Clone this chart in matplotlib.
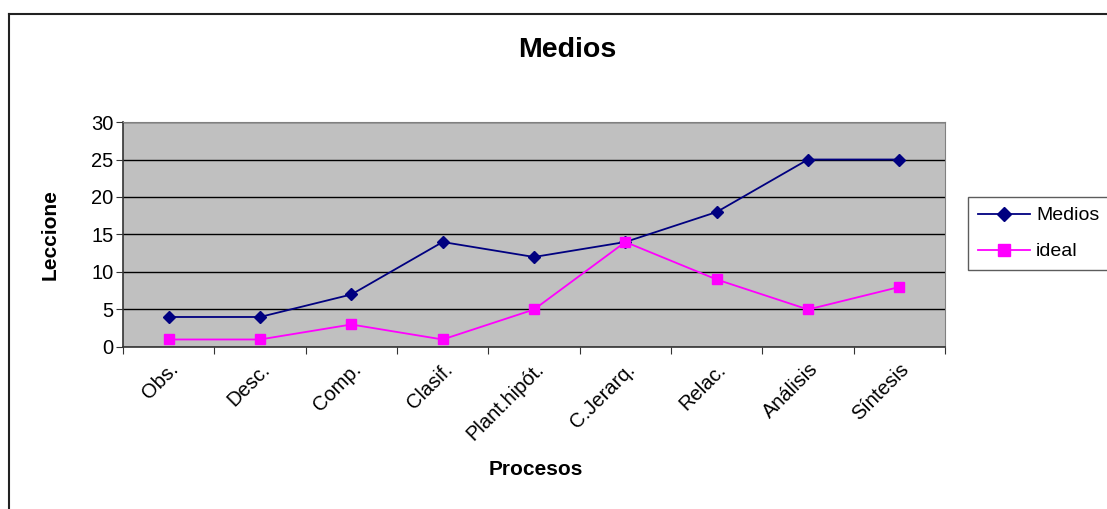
import matplotlib
matplotlib.use('Agg')
import matplotlib.pyplot as plt
from matplotlib.lines import Line2D

plt.rcParams['font.family'] = ['Liberation Sans', 'DejaVu Sans']

procesos = ['Obs.', 'Desc.', 'Comp.', 'Clasif.', 'Plant.hipót.',
            'C.Jerarq.', 'Relac.', 'Análisis', 'Síntesis']
medios = [4, 4, 7, 14, 12, 14, 18, 25, 25]
ideal = [1, 1, 3, 1, 5, 14, 9, 5, 8]

fig = plt.figure(figsize=(11.07, 5.09), dpi=100)
ax = fig.add_axes([0.1111, 0.3183, 0.7426, 0.4420])
ax.set_facecolor('#C0C0C0')

x = list(range(len(procesos)))
ax.plot(x, medios, color='#000080', marker='D', markersize=6, lw=1.3, label='Medios')
ax.plot(x, ideal, color='#FF00FF', marker='s', markersize=7, lw=1.3, label='ideal')

ax.set_xlim(-0.5, len(procesos) - 0.5)
ax.set_ylim(0, 30)
ax.set_yticks(range(0, 31, 5))
ax.yaxis.grid(True, color='black', lw=1)
ax.set_axisbelow(True)

# category ticks sit on the boundaries, labels in the middle
ax.set_xticks([i - 0.5 for i in range(len(procesos) + 1)])
ax.set_xticklabels([])
ax.set_xticks(x, minor=True)
ax.set_xticklabels(procesos, minor=True, rotation=45, ha='right',
                   rotation_mode='anchor', fontsize=14.5)
ax.tick_params(axis='x', which='minor', length=0, pad=9)
ax.tick_params(axis='x', which='major', length=5, color='#333333')
ax.tick_params(axis='y', length=5, color='#333333', labelsize=14.5, pad=2)

for side in ['top', 'right']:
    ax.spines[side].set_color('#808080')
for side in ['left', 'bottom']:
    ax.spines[side].set_color('#333333')
    ax.spines[side].set_linewidth(1.2)

fig.text(0.512, 0.902, 'Medios', ha='center', va='center', fontsize=20.5, fontweight='bold')
fig.text(0.484, 0.077, 'Procesos', ha='center', va='center', fontsize=15, fontweight='bold')
fig.text(0.045, 0.54, 'Leccione', ha='center', va='center', rotation=90,
         fontsize=15, fontweight='bold')

handles = [Line2D([], [], color='#000080', marker='D', markersize=7, lw=1.3),
           Line2D([], [], color='#FF00FF', marker='s', markersize=8, lw=1.3)]
leg = fig.legend(handles, ['Medios', 'ideal'], loc='upper left',
                 bbox_to_anchor=(0.8745, 0.613), fontsize=14, frameon=True,
                 fancybox=False, edgecolor='#333333', borderpad=0.5,
                 handlelength=2.7, handletextpad=0.3, labelspacing=0.95,
                 borderaxespad=0)
leg.get_frame().set_linewidth(1)

# outer chart border (left and top edges)
fig.add_artist(Line2D([0.008, 0.008], [0, 0.972], color='#222222', lw=1.5))
fig.add_artist(Line2D([0.008, 1.0], [0.972, 0.972], color='#222222', lw=1.5))

plt.savefig('out.png', dpi=100)
